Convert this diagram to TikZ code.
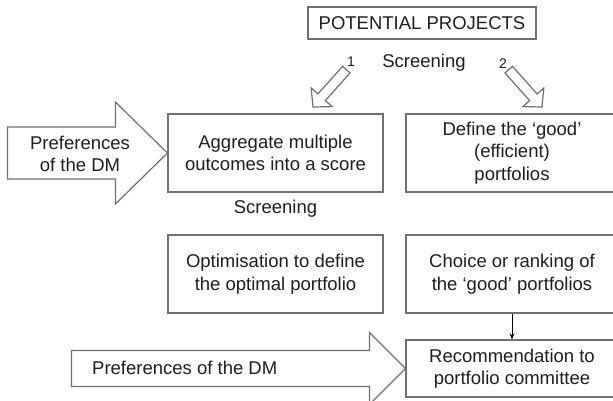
\documentclass[tikz,border=0pt]{standalone}
\usepackage{fontspec}
\setmainfont{Liberation Sans}
\usetikzlibrary{arrows.meta,calc}
\definecolor{edge}{HTML}{707070}
\definecolor{ink}{HTML}{1E1E1E}
\begin{document}
\begin{tikzpicture}[x=1pt,y=-1pt,
  every node/.style={text=ink, font=\fontsize{18.5}{22.5}\selectfont},
  box/.style={draw=edge, line width=1.2pt, align=center, inner sep=0pt, minimum height=78pt},
  leftbox/.style={box, minimum width=215pt},
  rightbox/.style={box, minimum width=212pt},
  blockarrow/.style={draw=edge, line width=1.2pt, line join=miter, fill=white},
  lbl/.style={inner sep=0pt},
  num/.style={inner sep=0pt, font=\fontsize{14}{16}\selectfont},
  link/.style={draw=black, line width=0.8pt, -{Stealth[length=6pt,width=5pt]}}
]
\useasboundingbox (0,0) rectangle (613,401);
\clip (0,0) rectangle (613,401);
\fill[white] (0,0) rectangle (613,401);

% top box and screening labels
\node[box, minimum width=228pt, minimum height=32pt] (pot) at (422,23) {POTENTIAL PROJECTS};
\node[lbl] (scr1) at (424,63) {Screening};
\node[num] (n1) at (351,62) {1};
\node[num] (n2) at (503,64) {2};

% process boxes
\node[leftbox] (agg) at (275.5,153) {Aggregate multiple\\outcomes into a score};
\node[rightbox] (def) at (512,153) {Define the ‘good’\\(efficient)\\portfolios};
\node[lbl] (scr2) at (275.5,209) {Screening};
\node[leftbox] (opt) at (275.5,274) {Optimisation to define\\the optimal portfolio};
\node[rightbox] (cho) at (512,274) {Choice or ranking of\\the ‘good’ portfolios};
\node[rightbox, minimum height=57pt] (rec) at (512,368.5) {Recommendation to\\portfolio committee};

% hollow screening arrows
\coordinate (t1) at (313,107);
\coordinate (t2) at (542,107);
\begin{scope}[shift={(t1)}, rotate=228.3, y=1pt]
  \draw[blockarrow] (0,0) -- (-13,-14) -- (-13,-5) -- (-50,-5) -- (-50,5) -- (-13,5) -- (-13,14) -- cycle;
\end{scope}
\begin{scope}[shift={(t2)}, rotate=-48.3, y=1pt]
  \draw[blockarrow] (0,0) -- (-13,-14) -- (-13,-5) -- (-50,-5) -- (-50,5) -- (-13,5) -- (-13,14) -- cycle;
\end{scope}

% preference arrows
\draw[blockarrow] (agg.west) -- ++(-52,-51) -- ++(0,25) -- ++(-108,0) -- ++(0,52) -- ++(108,0) -- ++(0,25) -- cycle;
\node[lbl, align=center] (pref1) at (80,154) {Preferences\\of the DM};
\draw[blockarrow] (rec.west) -- ++(-36,-36) -- ++(0,18) -- ++(-298,0) -- ++(0,36) -- ++(298,0) -- ++(0,18) -- cycle;
\node[lbl, anchor=west] (pref2) at (92,368) {Preferences of the DM};

% choice to recommendation
\draw[link] (cho.south) -- (rec.north);
\end{tikzpicture}
\end{document}
